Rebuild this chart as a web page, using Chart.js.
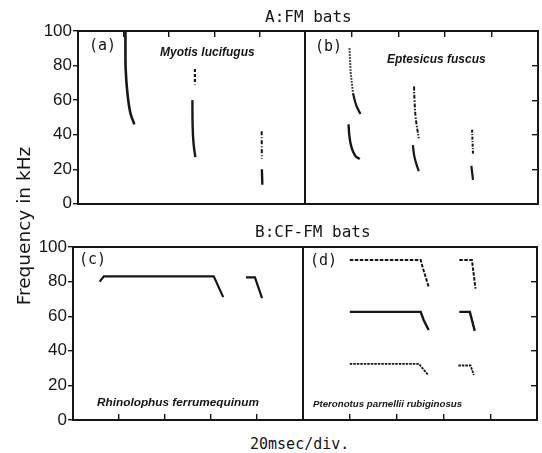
<!DOCTYPE html>
<html>
<head>
<meta charset="utf-8">
<script src="https://cdn.jsdelivr.net/npm/chart.js@4.4.1/dist/chart.umd.min.js"></script>
<style>
body{margin:0;background:#fff;}
#wrap{position:relative;width:542px;height:453px;overflow:hidden;background:#fff;}
canvas{position:absolute;}
.t{position:absolute;white-space:nowrap;color:#151515;}
.mono{font-family:"DejaVu Sans Mono",monospace;line-height:1;}
.sp{font-family:"Liberation Sans",sans-serif;font-style:italic;font-weight:bold;font-size:11.5px;line-height:12px;}
</style>
</head>
<body>
<div id="wrap">
  <canvas id="ca" width="310" height="215" style="left:0;top:0"></canvas>
  <canvas id="cb" width="242" height="215" style="left:300px;top:0"></canvas>
  <canvas id="cc" width="310" height="215" style="left:0;top:220px"></canvas>
  <canvas id="cd" width="244" height="215" style="left:298px;top:220px"></canvas>

  <div class="t mono" style="left:265px;top:9px;font-size:16px">A:FM bats</div>
  <div class="t mono" style="left:255px;top:224px;font-size:16px">B:CF-FM bats</div>
  <div class="t mono" style="left:250px;top:437px;font-size:15px">20msec/div.</div>
  <div class="t" style="left:-66px;top:215px;width:180px;height:22px;line-height:22px;text-align:center;font-family:'DejaVu Sans',sans-serif;font-size:18.5px;transform:rotate(-90deg)">Frequency in kHz</div>

  <div class="t mono" style="left:89px;top:38px;font-size:15px">(a)</div>
  <div class="t mono" style="left:315px;top:39px;font-size:15px">(b)</div>
  <div class="t mono" style="left:79px;top:252px;font-size:15px">(c)</div>
  <div class="t mono" style="left:310px;top:253px;font-size:15px">(d)</div>

  <div class="t sp" style="left:160px;top:46px;font-size:12px">Myotis lucifugus</div>
  <div class="t sp" style="left:387px;top:53px;font-size:12px">Eptesicus fuscus</div>
  <div class="t sp" style="left:97px;top:396px;font-size:11.8px">Rhinolophus ferrumequinum</div>
  <div class="t sp" style="left:313px;top:398px;font-size:9.7px">Pteronotus parnellii rubiginosus</div>
</div>
<script>
// time in msec (20 msec per division), frequency in kHz
const ticksY = [0, 20, 40, 60, 80, 100]

// (a) Myotis lucifugus
const a1T = [20.9, 20.9, 21.0, 21.7, 23.0, 24.8]
const a1F = [100, 90, 78, 65, 53, 46]
const a2hT = [51.5, 51.5]
const a2hF = [78, 69]
const a2T = [50.4, 50.5, 50.9, 51.7]
const a2F = [60, 45, 35, 27]
const a3hT = [80.9, 81.0]
const a3hF = [42, 26]
const a3T = [81.0, 81.2]
const a3F = [20, 11]

// (b) Eptesicus fuscus
const b1hT = [19.1, 19.6, 20.6]
const b1hF = [90, 76, 64]
const b1h2T = [20.6, 22.0, 23.8]
const b1h2F = [64, 57, 52]
const b1T = [18.7, 19.0, 19.9, 21.5, 23.5]
const b1F = [46, 40, 33, 28, 26]
const b2hT = [46.8, 47.0, 47.5, 48.8]
const b2hF = [68, 60, 50, 38]
const b2T = [46.3, 47.0, 48.8]
const b2F = [34, 27, 19]
const b3hT = [71.7, 72.1]
const b3hF = [43, 29]
const b3T = [71.4, 72.1]
const b3F = [22, 14]

// (c) Rhinolophus ferrumequinum
const c1T = [11.6, 13.4, 61.2, 65.3]
const c1F = [80, 83, 83, 71]
const c2T = [75.2, 79.1, 82.2]
const c2F = [82.5, 82.5, 70.5]

// (d) Pteronotus parnellii rubiginosus
const d1hT = [20, 50.3, 51.2, 53.7]
const d1hF = [92.5, 92.5, 88, 77]
const d1T = [20, 50.3, 51.5, 53.7]
const d1F = [62.5, 62.5, 58, 52]
const d1lT = [20, 49.5, 51.0, 53.5]
const d1lF = [32.5, 32.5, 30, 26]
const d2hT = [66.8, 72.2, 73.7]
const d2hF = [92.5, 92.5, 76]
const d2T = [66.8, 71.3, 73.4]
const d2F = [62.5, 62.5, 51.5]
const d2lT = [66.4, 71.6, 73.0]
const d2lF = [31.5, 31.5, 26]

const ink = "#161616"

function pts(t, f) {
    return t.map((v, i) => ({x: v, y: f[i]}))
}
function line(t, f, dash, w, curve) {
    return {
        data: pts(t, f),
        borderColor: ink,
        borderWidth: w || 2.2,
        borderDash: dash || [],
        pointRadius: 0,
        tension: curve ? 0.4 : 0,
        fill: false
    }
}

function tickGrid(show, len) {
    return {display: show, drawOnChartArea: false, drawTicks: true, tickLength: len, color: ink, lineWidth: 1.4}
}

function panel(id, sets, o) {
    const border = {display: true, color: ink, width: 2}
    new Chart(document.getElementById(id), {
        type: "line",
        data: {datasets: sets},
        options: {
            responsive: false,
            animation: false,
            devicePixelRatio: 1,
            layout: {padding: o.pad},
            plugins: {legend: {display: false}, tooltip: {enabled: false}},
            scales: {
                x: {
                    type: "linear", min: 0, max: 100, position: "bottom",
                    ticks: {display: false, stepSize: 20},
                    grid: tickGrid(o.bottomTicks, -6), border: border,
                    afterFit: s => { s.height = 0 }
                },
                xt: {
                    type: "linear", min: 0, max: 100, position: "top",
                    ticks: {display: false, stepSize: 20},
                    grid: tickGrid(o.topTicks, -6), border: border,
                    afterFit: s => { s.height = 0 }
                },
                y: {
                    type: "linear", min: 0, max: 100, position: "left",
                    afterBuildTicks: s => { s.ticks = ticksY.map(v => ({value: v})) },
                    ticks: {display: o.labels, padding: 1, color: ink,
                        font: {family: "Liberation Sans", size: 17}},
                    grid: tickGrid(o.labels, 5), border: border,
                    afterFit: s => { s.width = o.left }
                },
                yr: {
                    type: "linear", min: 0, max: 100, position: "right",
                    ticks: {display: false, stepSize: 20},
                    grid: tickGrid(o.rightTicks, -6), border: border,
                    afterFit: s => { s.width = 0 }
                }
            }
        }
    })
}

panel("ca", [
    line(a1T, a1F, [], 2.6, true),
    line(a2hT, a2hF, [3, 2], 2.2),
    line(a2T, a2F, [], 2.4, true),
    line(a3hT, a3hF, [4, 2, 1, 2], 2),
    line(a3T, a3F, [], 2.4)
], {pad: {top: 31, left: 0, right: 5, bottom: 11}, left: 78, labels: true, topTicks: true, bottomTicks: false, rightTicks: false})

panel("cb", [
    line(b1hT, b1hF, [1.5, 1.5], 2),
    line(b1h2T, b1h2F, [], 2.2, true),
    line(b1T, b1F, [], 2.4, true),
    line(b2hT, b2hF, [4, 1.5, 1.5, 1.5], 2, true),
    line(b2T, b2F, [], 2.2, true),
    line(b3hT, b3hF, [3, 1.5, 1, 1.5], 2),
    line(b3T, b3F, [], 2.2)
], {pad: {top: 31, left: 5, right: 4, bottom: 11}, left: 0, labels: false, topTicks: true, bottomTicks: false, rightTicks: true})

panel("cc", [
    line(c1T, c1F, [], 2.2),
    line(c2T, c2F, [], 2.2)
], {pad: {top: 27, left: 0, right: 7, bottom: 15}, left: 73, labels: true, topTicks: false, bottomTicks: true, rightTicks: false})

panel("cd", [
    line(d1hT, d1hF, [3.5, 1.5], 2),
    line(d1T, d1F, [], 2.4),
    line(d1lT, d1lF, [2.5, 1], 1.8),
    line(d2hT, d2hF, [3.5, 1.5], 2),
    line(d2T, d2F, [], 2.4),
    line(d2lT, d2lF, [2.5, 1], 1.8)
], {pad: {top: 27, left: 5, right: 5, bottom: 15}, left: 0, labels: false, topTicks: false, bottomTicks: true, rightTicks: true})
</script>
</body>
</html>
